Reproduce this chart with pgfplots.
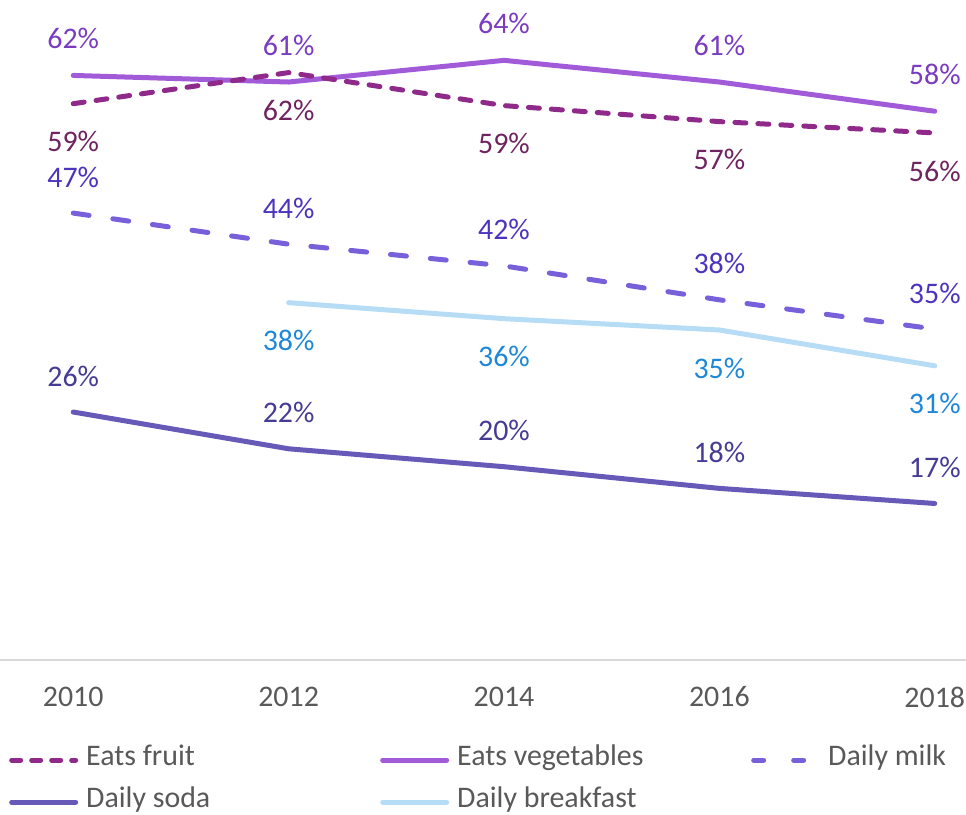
\documentclass[border=0pt]{standalone}
\usepackage{pgfplots}
\pgfplotsset{compat=1.18}
\usetikzlibrary{calc}
\usepackage{fontspec}
\setmainfont{Carlito}

\definecolor{fruitc}{HTML}{8F2A8B}
\definecolor{vegc}{HTML}{A15BD8}
\definecolor{milkc}{HTML}{7860DA}
\definecolor{sodac}{HTML}{6659B8}
\definecolor{bfc}{HTML}{B7DCF6}
\definecolor{fruitt}{HTML}{70245F}
\definecolor{vegt}{HTML}{7A3CC0}
\definecolor{milkt}{HTML}{4B35BE}
\definecolor{sodat}{HTML}{463B95}
\definecolor{bft}{HTML}{1E88D8}
\definecolor{txtgray}{HTML}{595959}

\begin{document}
\begin{tikzpicture}[font=\fontsize{30}{36}\selectfont]
\begin{axis}[
    name=ax,
    scale only axis,
    width=966bp, height=660bp,
    xmin=2009.32, xmax=2018.29,
    ymin=0, ymax=70,
    clip=false,
    axis x line*=bottom,
    axis line style={draw=black!15, line width=2bp, -},
    hide y axis,
    xtick={2010,2012,2014,2016,2018},
    xticklabels={2010,2012,2014,2016,2018},
    major tick length=0pt,
    xticklabel style={anchor=center, yshift=-37bp, text=txtgray},
    point meta=explicit symbolic,
    every node near coord/.append style={inner sep=0bp, anchor=center},
    legend image code/.code={\draw[#1] (0bp,0bp) -- (64bp,0bp);},
    legend columns=3,
    legend style={at={(rel axis cs:0,0)}, anchor=north west,
        xshift=6bp, yshift=-81bp, draw=none, fill=none,
        text=txtgray, row sep=8bp,
        nodes={inner sep=0bp, text height=22bp, text depth=12bp},
        /tikz/every odd column/.append style={column sep=8bp}},
]
% legend entries
\addlegendimage{fruitc, line width=5bp, line cap=round, dash pattern=on 9bp off 11bp}
\addlegendimage{vegc, line width=5bp, line cap=round}
\addlegendimage{milkc, line width=5bp, line cap=round, dash pattern=on 10bp off 30bp}
\addlegendimage{sodac, line width=5bp, line cap=round}
\addlegendimage{bfc, line width=5bp, line cap=round}

% Eats vegetables
\addplot[forget plot, vegc, line width=5bp, line cap=round,
    nodes near coords, every node near coord/.append style={yshift=37bp, text=vegt}]
    coordinates {(2010,62.0)[62\%] (2012,61.3)[61\%] (2014,63.6)[64\%] (2016,61.3)[61\%] (2018,58.2)[58\%]};
% Eats fruit
\addplot[forget plot, fruitc, line width=5bp, line cap=round, dash pattern=on 11bp off 12bp,
    nodes near coords, every node near coord/.append style={yshift=-38bp, text=fruitt}]
    coordinates {(2010,59.0)[59\%] (2012,62.3)[62\%] (2014,58.8)[59\%] (2016,57.1)[57\%] (2018,55.9)[56\%]};
% Daily milk
\addplot[forget plot, milkc, line width=5bp, line cap=round, dash pattern=on 16bp off 24bp,
    nodes near coords, every node near coord/.append style={yshift=36bp, text=milkt}]
    coordinates {(2010,47.4)[47\%] (2012,44.1)[44\%] (2014,41.8)[42\%] (2016,38.2)[38\%] (2018,35.1)[35\%]};
% Daily breakfast
\addplot[forget plot, bfc, line width=5bp, line cap=round,
    nodes near coords, every node near coord/.append style={yshift=-38bp, text=bft}]
    coordinates {(2012,37.9)[38\%] (2014,36.2)[36\%] (2016,35.0)[35\%] (2018,31.2)[31\%]};
% Daily soda
\addplot[forget plot, sodac, line width=5bp, line cap=round,
    nodes near coords, every node near coord/.append style={yshift=36bp, text=sodat}]
    coordinates {(2010,26.3)[26\%] (2012,22.4)[22\%] (2014,20.5)[20\%] (2016,18.2)[18\%] (2018,16.6)[17\%]};

\legend{\makebox[294bp][l]{Eats fruit},\makebox[294bp][l]{Eats vegetables},Daily milk,
        \makebox[294bp][l]{Daily soda},\makebox[294bp][l]{Daily breakfast}}
\end{axis}
\pgfresetboundingbox
\path[use as bounding box] (ax.north west) rectangle ($(ax.south east)+(0,-155bp)$);
\end{tikzpicture}
\end{document}
